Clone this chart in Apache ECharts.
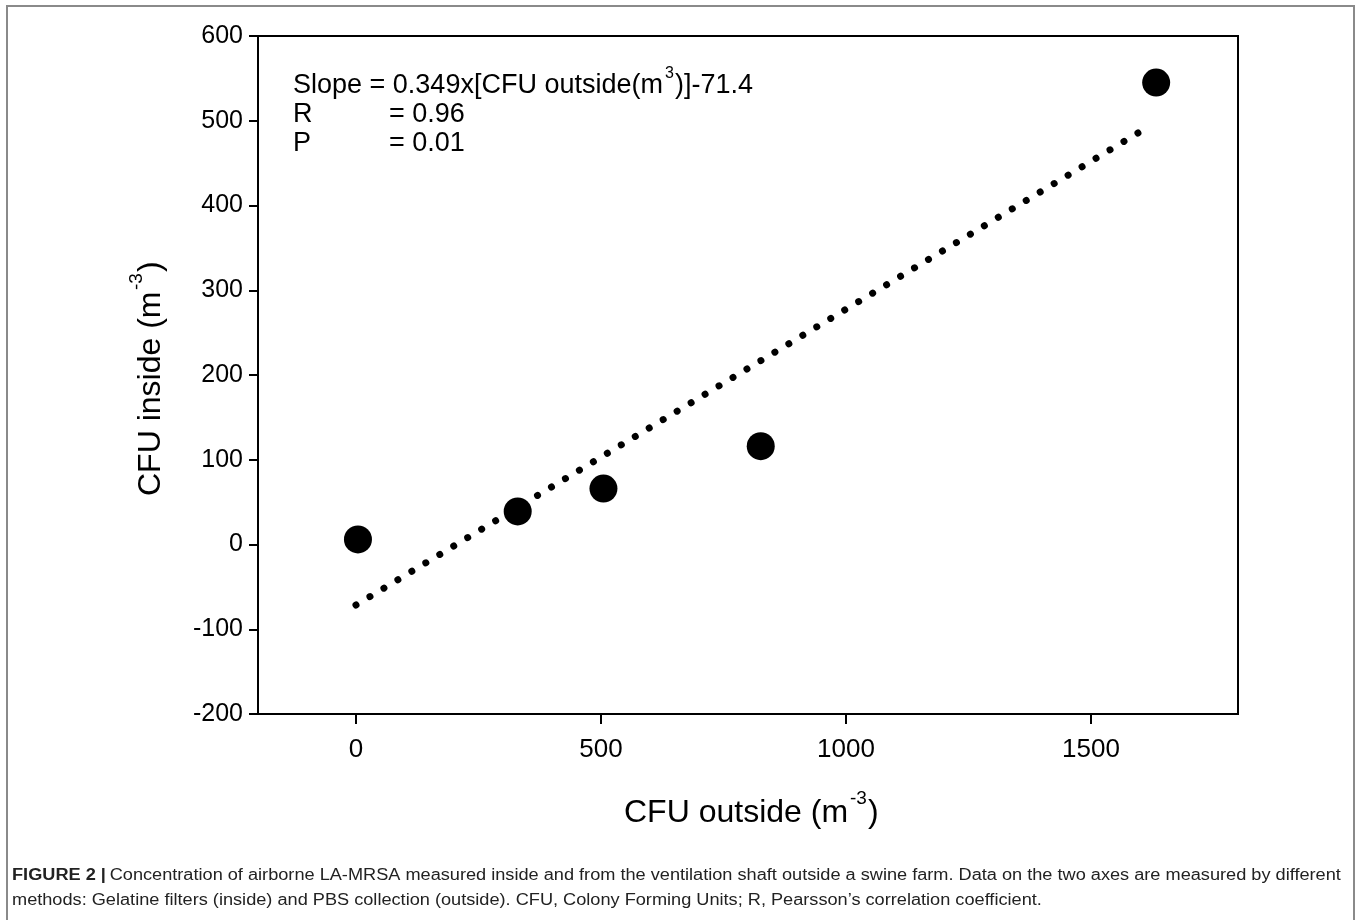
<!DOCTYPE html>
<html>
<head>
<meta charset="utf-8">
<script src="https://cdn.jsdelivr.net/npm/echarts@6/dist/echarts.min.js"></script>
<style>
html,body{margin:0;padding:0;background:#fff;}
#chart{width:1357px;height:920px;}
</style>
</head>
<body>
<div id="chart"></div>
<script>
// Data
const cfuOutside = [4, 330, 505, 826, 1633];
const cfuInside = [6, 39, 66, 116, 545];
const fitX = [0, 1608];
const fitY = [-71.4, 489.8];
const yTicks = [-200, -100, 0, 100, 200, 300, 400, 500, 600];
const xTicks = [0, 500, 1000, 1500];
const statsLabels = ['Slope = 0.349x[CFU outside(m', 'R', 'P'];
const statsValues = ['3', '= 0.96', '= 0.01'];

const points = cfuOutside.map((x, i) => [x, cfuInside[i]]);
const fitLine = fitX.map((x, i) => [x, fitY[i]]);

const font = '"Liberation Sans", Arial, Helvetica, sans-serif';
const chart = echarts.init(document.getElementById('chart'));

chart.setOption({
  animation: false,
  backgroundColor: '#fff',
  grid: {
    left: 258, top: 36, right: 119, bottom: 206,
    show: true, borderColor: '#000', borderWidth: 2, backgroundColor: 'transparent'
  },
  xAxis: {
    type: 'value', min: -200, max: 1800,
    splitLine: {show: false},
    axisLine: {show: true, onZero: false, lineStyle: {color: '#000', width: 2}},
    axisTick: {show: true, inside: false, length: 10, customValues: xTicks, lineStyle: {color: '#000', width: 2}},
    axisLabel: {customValues: xTicks, margin: 23, color: '#000', fontSize: 26, fontFamily: font,
      formatter: v => String(v)}
  },
  yAxis: {
    type: 'value', min: -200, max: 600, interval: 100,
    splitLine: {show: false},
    axisLine: {show: true, onZero: false, lineStyle: {color: '#000', width: 2}},
    axisTick: {show: true, inside: false, length: 9, lineStyle: {color: '#000', width: 2}},
    axisLabel: {margin: 15, color: '#000', fontSize: 25, fontFamily: font,
      formatter: v => yTicks.includes(v) ? String(v) : ''}
  },
  series: [
    {
      type: 'line', data: fitLine, symbol: 'none', silent: true,
      lineStyle: {color: '#000', width: 7, type: [0.01, 16.3], cap: 'round'},
      z: 2
    },
    {
      type: 'scatter', data: points, symbol: 'circle', symbolSize: 28,
      itemStyle: {color: '#000', opacity: 1},
      z: 3
    }
  ],
  graphic: [
    {type: 'rect', silent: true, shape: {x: 7, y: 6, width: 1347, height: 960},
      style: {fill: 'none', stroke: '#8a8a8a', lineWidth: 2}},
    // stats text
    {type: 'group', x: 293, y: 72, children: [
      {type: 'text', x: 0, y: 0, style: {text: statsLabels[0], fontSize: 27, fontFamily: font, fill: '#000'}},
      {type: 'text', x: 372, y: -6, style: {text: statsValues[0], fontSize: 16, fontFamily: font, fill: '#000'}},
      {type: 'text', x: 382, y: 0, style: {text: ')]-71.4', fontSize: 27, fontFamily: font, fill: '#000'}}
    ]},
    {type: 'text', x: 293, y: 101, style: {text: statsLabels[1], fontSize: 27, fontFamily: font, fill: '#000'}},
    {type: 'text', x: 389, y: 101, style: {text: statsValues[1], fontSize: 27, fontFamily: font, fill: '#000'}},
    {type: 'text', x: 293, y: 130, style: {text: statsLabels[2], fontSize: 27, fontFamily: font, fill: '#000'}},
    {type: 'text', x: 389, y: 130, style: {text: statsValues[2], fontSize: 27, fontFamily: font, fill: '#000'}},
    // x axis title
    {type: 'group', x: 624, y: 789, children: [
      {type: 'text', x: 0, y: 8, style: {text: 'CFU outside (m', fontSize: 32, fontFamily: font, fill: '#000'}},
      {type: 'text', x: 226, y: 0, style: {text: '-3', fontSize: 19, fontFamily: font, fill: '#000'}},
      {type: 'text', x: 244, y: 8, style: {text: ')', fontSize: 32, fontFamily: font, fill: '#000'}}
    ]},
    // y axis title (rotated)
    {type: 'group', x: 135, y: 496, rotation: Math.PI / 2, children: [
      {type: 'text', x: 0, y: 0, style: {text: 'CFU inside (m', fontSize: 32, fontFamily: font, fill: '#000'}},
      {type: 'text', x: 206, y: -8, style: {text: '-3', fontSize: 19, fontFamily: font, fill: '#000'}},
      {type: 'text', x: 224, y: 0, style: {text: ')', fontSize: 32, fontFamily: font, fill: '#000'}}
    ]},
    // caption
    {type: 'text', x: 12, y: 868, scaleX: 1.135, style: {
      text: '{b|FIGURE 2 |} {n|Concentration of airborne LA-MRSA measured inside and from the ventilation shaft outside a swine farm. Data on the two axes are measured by different}',
      rich: {b: {fontSize: 16, fontWeight: 'bold', fontFamily: font, fill: '#222'},
             n: {fontSize: 16, fontFamily: font, fill: '#222'}}
    }},
    {type: 'text', x: 12, y: 893, scaleX: 1.135, style: {
      text: 'methods: Gelatine filters (inside) and PBS collection (outside). CFU, Colony Forming Units; R, Pearsson\u2019s correlation coefficient.',
      fontSize: 16, fontFamily: font, fill: '#222'
    }}
  ]
});
</script>
</body>
</html>
